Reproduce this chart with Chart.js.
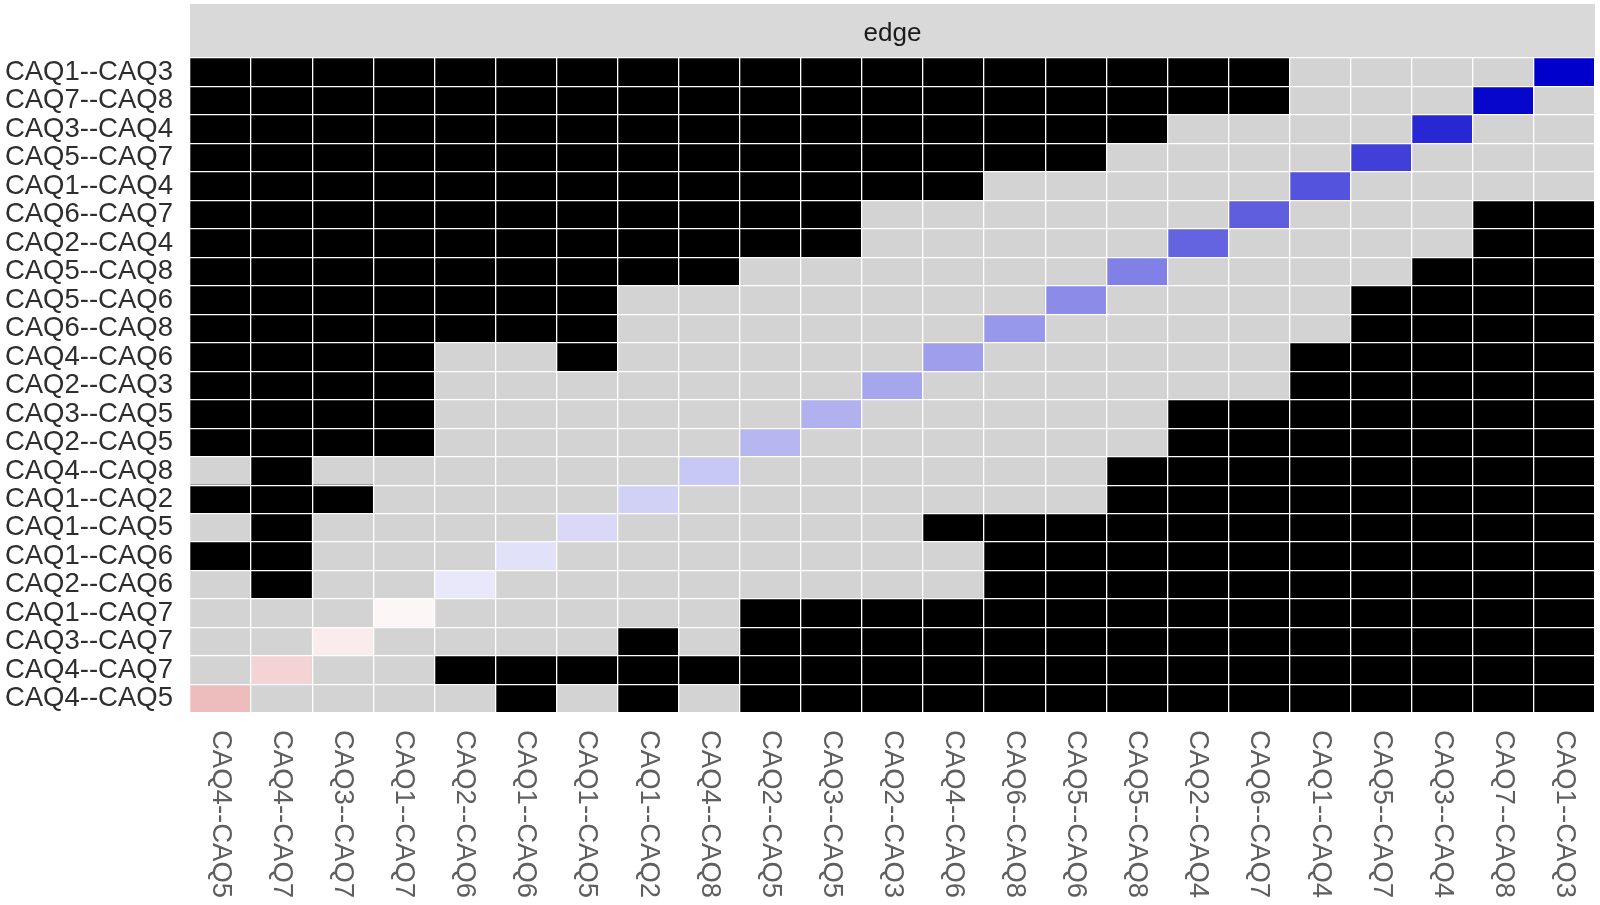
<!DOCTYPE html>
<html>
<head>
<meta charset="utf-8">
<script src="https://cdn.jsdelivr.net/npm/chart.js@4/dist/chart.umd.min.js"></script>
<style>
  html, body { margin: 0; padding: 0; background: #fff; }
  #wrap { width: 1600px; height: 905px; }
</style>
</head>
<body>
<div id="wrap"><canvas id="diffplot"></canvas></div>
<script>
// edges sorted by mean weight (bottom row / left column first)
const edges = ['CAQ4--CAQ5', 'CAQ4--CAQ7', 'CAQ3--CAQ7', 'CAQ1--CAQ7', 'CAQ2--CAQ6', 'CAQ1--CAQ6',
  'CAQ1--CAQ5', 'CAQ1--CAQ2', 'CAQ4--CAQ8', 'CAQ2--CAQ5', 'CAQ3--CAQ5', 'CAQ2--CAQ3', 'CAQ4--CAQ6',
  'CAQ6--CAQ8', 'CAQ5--CAQ6', 'CAQ5--CAQ8', 'CAQ2--CAQ4', 'CAQ6--CAQ7', 'CAQ1--CAQ4', 'CAQ5--CAQ7',
  'CAQ3--CAQ4', 'CAQ7--CAQ8', 'CAQ1--CAQ3'];

// mean edge weight, shown on the diagonal
const meanWeight = [-0.12, -0.08, -0.034, -0.016, 0.041, 0.055, 0.069, 0.083, 0.10, 0.132, 0.14, 0.16,
  0.175, 0.185, 0.207, 0.23, 0.28, 0.29, 0.31, 0.345, 0.39, 0.45, 0.46];

// difference test: 1 = significant, 0 = not, - = diagonal (one string per edge, columns in edge order)
const sigDiff = [
  '-0000101011111111111111',
  '0-001111111111111111111',
  '00-00001011111111111111',
  '000-0000011111111111111',
  '0100-000000001111111111',
  '11000-00000001111111111',
  '010000-0000011111111111',
  '1110000-000000011111111',
  '01000000-00000011111111',
  '111100000-0000001111111',
  '1111000000-000001111111',
  '11110000000-00000011111',
  '111100100000-0000011111',
  '1111111000000-000001111',
  '11111110000000-00001111',
  '111111111000000-0000111',
  '1111111111100000-000011',
  '11111111111000000-00011',
  '111111111111100000-0000',
  '1111111111111110000-000',
  '11111111111111110000-00',
  '111111111111111111000-0',
  '1111111111111111110000-'
];

const stripLabel = 'edge';
const colorLimit = 0.46;

function weightColor(w) {
  const t = Math.min(Math.abs(w) / colorLimit, 1);
  if (w >= 0) {
    return 'rgb(' + Math.round(255 * (1 - t)) + ',' + Math.round(255 * (1 - t)) + ',' + Math.round(255 - t * 51) + ')';
  }
  return 'rgb(' + Math.round(255 - t * 70) + ',' + Math.round(255 * (1 - t)) + ',' + Math.round(255 * (1 - t)) + ')';
}

function cellColor(row, col) {
  const c = sigDiff[row][col];
  if (c === '-') return weightColor(meanWeight[row]);
  return c === '1' ? '#000000' : '#d3d3d3';
}

const datasets = edges.map(function(name, r) {
  return {
    label: name,
    data: edges.map(function() { return [r, r + 1]; }),
    backgroundColor: edges.map(function(e, c) { return cellColor(r, c); }),
    borderWidth: 0,
    grouped: false,
    barPercentage: 1,
    categoryPercentage: 1
  };
});

const stripAndLabels = {
  id: 'stripAndLabels',
  beforeDraw(chart) {
    const ctx = chart.ctx, a = chart.chartArea;
    ctx.save();
    ctx.fillStyle = '#d9d9d9';
    ctx.fillRect(a.left, 4, a.right - a.left, a.top - 4);
    ctx.fillStyle = '#1a1a1a';
    ctx.font = '26px "Liberation Sans", Arial, sans-serif';
    ctx.textAlign = 'center';
    ctx.textBaseline = 'middle';
    ctx.fillText(stripLabel, (a.left + a.right) / 2, (4 + a.top) / 2 + 3);
    ctx.restore();
  },
  afterDraw(chart) {
    const ctx = chart.ctx, a = chart.chartArea, xs = chart.scales.x;
    ctx.save();
    ctx.fillStyle = '#5e5e5e';
    ctx.font = '27.5px "Liberation Sans", Arial, sans-serif';
    ctx.textAlign = 'left';
    ctx.textBaseline = 'middle';
    edges.forEach(function(lab, i) {
      ctx.save();
      ctx.translate(xs.getPixelForValue(i), a.bottom + 17);
      ctx.rotate(Math.PI / 2);
      ctx.fillText(lab, 0, 0);
      ctx.restore();
    });
    ctx.restore();
  }
};

new Chart(document.getElementById('diffplot').getContext('2d'), {
  type: 'bar',
  data: { labels: edges, datasets: datasets },
  plugins: [stripAndLabels],
  options: {
    responsive: true,
    maintainAspectRatio: false,
    animation: false,
    layout: { padding: { top: 58, right: 5, left: 0, bottom: 0 } },
    plugins: { legend: { display: false }, tooltip: { enabled: false } },
    scales: {
      x: {
        type: 'category',
        offset: true,
        grid: { offset: true, color: '#ffffff', lineWidth: 1.3, z: 1, drawTicks: false },
        border: { display: false },
        ticks: { display: false },
        afterFit: function(s) { s.height = 192; }
      },
      y: {
        type: 'linear',
        min: 0,
        max: 23,
        grid: { color: '#ffffff', lineWidth: 1.3, z: 1, drawTicks: false },
        border: { display: false },
        ticks: { display: false, stepSize: 1 },
        afterFit: function(s) { s.width = 0; }
      },
      yl: {
        type: 'linear',
        position: 'left',
        min: 0,
        max: 23,
        grid: { display: false, drawTicks: false },
        border: { display: false },
        afterBuildTicks: function(s) {
          s.ticks = edges.map(function(e, i) { return { value: i + 0.5 }; });
        },
        ticks: {
          autoSkip: false,
          padding: 17,
          color: '#2e2e2e',
          font: { family: '"Liberation Sans", Arial, sans-serif', size: 27.5 },
          callback: function(v) { return edges[Math.floor(v)]; }
        },
        afterFit: function(s) { s.width = 190; }
      }
    }
  }
});
</script>
</body>
</html>
